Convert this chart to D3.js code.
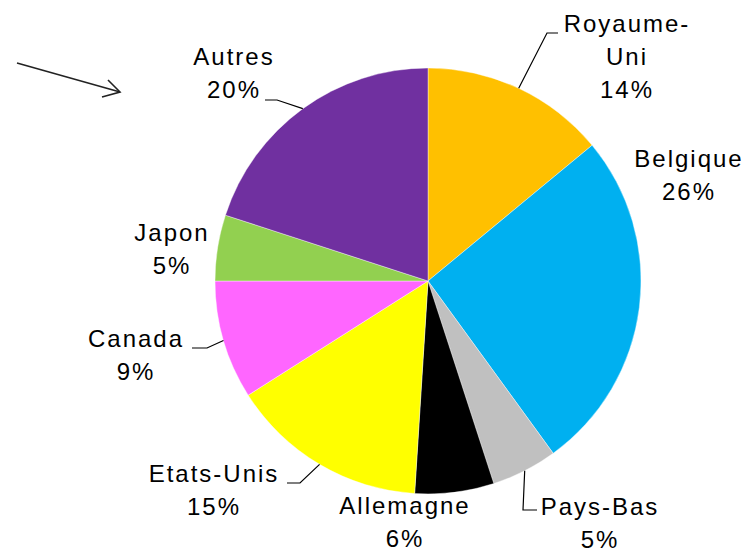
<!DOCTYPE html>
<html>
<head>
<meta charset="utf-8">
<script src="https://cdn.jsdelivr.net/npm/d3@7"></script>
<style>
  body { margin: 0; background: #fff; }
  svg text { font-family: "Liberation Sans", Arial, sans-serif; }
</style>
</head>
<body>
<svg id="chart" width="745" height="552"></svg>
<script>
// data
const countries = ["Royaume-Uni", "Belgique", "Pays-Bas", "Allemagne", "Etats-Unis", "Canada", "Japon", "Autres"];
const shares = [14, 26, 5, 6, 15, 9, 5, 20];
const labelLines = [["Royaume-", "Uni"], ["Belgique"], ["Pays-Bas"], ["Allemagne"], ["Etats-Unis"], ["Canada"], ["Japon"], ["Autres"]];
const colors = ["#FFC000", "#00B0F0", "#C0C0C0", "#000000", "#FFFF00", "#FF66FF", "#92D050", "#7030A0"];

// label layout (text centre x, first baseline y, leader elbow)
const labelLayout = {
  "Royaume-Uni": { x: 626, y: 32, elbow: [[547, 33], [558, 33]] },
  "Belgique": { x: 688, y: 167 },
  "Pays-Bas": { x: 599, y: 515, elbow: [[523, 510], [537, 510]] },
  "Allemagne": { x: 404, y: 514 },
  "Etats-Unis": { x: 213, y: 482, elbow: [[300, 483], [287, 483]] },
  "Canada": { x: 135, y: 347, elbow: [[207, 348], [192, 348]] },
  "Japon": { x: 171, y: 241 },
  "Autres": { x: 233, y: 65, elbow: [[277, 100], [265, 100]] }
};

const cx = 428, cy = 281, radius = 213;
const svg = d3.select("#chart");

const pie = d3.pie().sort(null).value((d) => d.value);
const arc = d3.arc().innerRadius(0).outerRadius(radius);

const data = countries.map((c, i) => ({ name: c, value: shares[i], lines: labelLines[i], color: colors[i] }));
const arcs = pie(data);

const g = svg.append("g").attr("transform", `translate(${cx},${cy})`);

g.selectAll("path")
  .data(arcs)
  .enter()
  .append("path")
  .attr("d", arc)
  .attr("fill", (d) => d.data.color)
  .attr("stroke", "#fff")
  .attr("stroke-width", 0.4);

// leader lines
arcs.forEach((d) => {
  const lay = labelLayout[d.data.name];
  if (!lay.elbow) return;
  const mid = (d.startAngle + d.endAngle) / 2;
  const start = [cx + radius * Math.sin(mid), cy - radius * Math.cos(mid)];
  svg.append("polyline")
    .attr("points", [start, ...lay.elbow].map((p) => p.join(",")).join(" "))
    .attr("fill", "none")
    .attr("stroke", "#000")
    .attr("stroke-width", 1.2);
});

// labels
arcs.forEach((d) => {
  const lay = labelLayout[d.data.name];
  const lines = d.data.lines.concat([d.data.value + "%"]);
  const t = svg.append("text")
    .attr("text-anchor", "middle")
    .attr("font-size", 24)
    .attr("letter-spacing", 2)
    .attr("fill", "#000");
  lines.forEach((ln, i) => {
    t.append("tspan")
      .attr("x", lay.x + 1)
      .attr("y", lay.y + i * 33)
      .text(ln);
  });
});

// arrow
const arrow = svg.append("g").attr("stroke", "#222").attr("stroke-width", 1.6).attr("fill", "none");
arrow.append("line").attr("x1", 17).attr("y1", 63).attr("x2", 120).attr("y2", 92);
arrow.append("polyline").attr("points", "108,80 120,92 102,97");
</script>
</body>
</html>
